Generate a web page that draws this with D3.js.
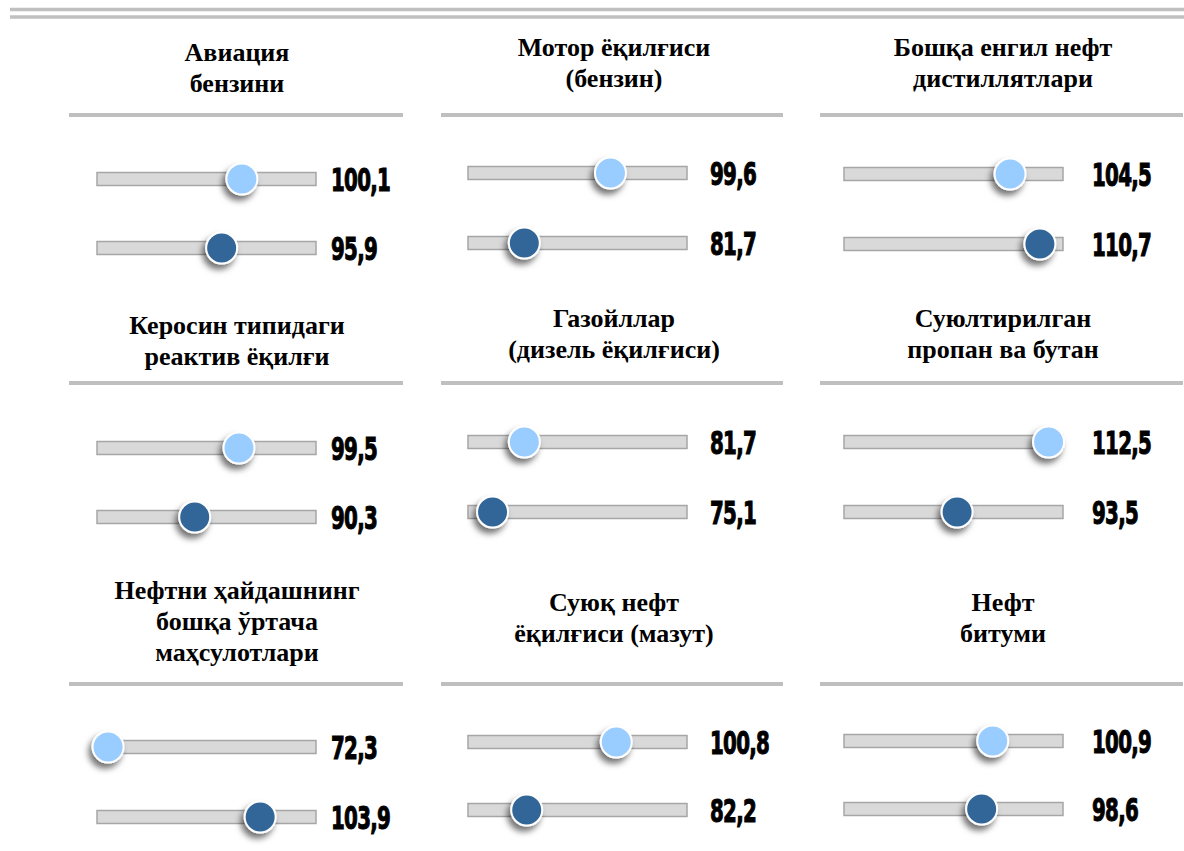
<!DOCTYPE html>
<html><head><meta charset="utf-8">
<script src="https://cdn.jsdelivr.net/npm/d3@7"></script>
<style>html,body{margin:0;padding:0;background:#fff;}svg{display:block;}
.ttl{font-family:"Liberation Serif","DejaVu Serif",serif;font-weight:bold;}
.lbl{font-family:"DejaVu Sans Condensed","DejaVu Sans",sans-serif;font-weight:bold;}
</style>
</head><body>
<script>
// ---- data ----
const categories = [
  ["Авиация", "бензини"],
  ["Мотор ёқилғиси", "(бензин)"],
  ["Бошқа енгил нефт", "дистиллятлари"],
  ["Керосин типидаги", "реактив ёқилғи"],
  ["Газойллар", "(дизель ёқилғиси)"],
  ["Суюлтирилган", "пропан ва бутан"],
  ["Нефтни ҳайдашнинг", "бошқа ўртача", "маҳсулотлари"],
  ["Суюқ нефт", "ёқилғиси (мазут)"],
  ["Нефт", "битуми"]
];
const seriesLight = [100.1, 99.6, 104.5, 99.5, 81.7, 112.5, 72.3, 100.8, 100.9];
const seriesDark  = [95.9, 81.7, 110.7, 90.3, 75.1, 93.5, 103.9, 82.2, 98.6];
const labelsLight = ["100,1", "99,6", "104,5", "99,5", "81,7", "112,5", "72,3", "100,8", "100,9"];
const labelsDark  = ["95,9", "81,7", "110,7", "90,3", "75,1", "93,5", "103,9", "82,2", "98,6"];

// ---- layout ----
const W = 1184, H = 851;
const trackX = [97, 468, 844];
const trackW = 219;
const labelX = [331, 710, 1092];
const titleX = [237, 614, 1003];
const sepX = [[69, 403], [441, 783], [820, 1183]];
const sepY = [115, 383, 684];
const titleMid = [[67, 62.5, 62.5], [340, 333, 333], [621, 617.5, 617.5]];
const track1Y = [[179, 173, 174], [448, 442, 442], [747, 742, 741]];
const track2Y = [[248, 243, 244], [517, 512, 512], [817, 810, 809]];
const lineH = 31;

const x = d3.scaleLinear().domain([70, 115.5]).range([0, trackW]);

const svg = d3.select("body").append("svg").attr("width", W).attr("height", H);
const defs = svg.append("defs");
const f = defs.append("filter").attr("id", "sh").attr("x", "-60%").attr("y", "-60%").attr("width", "220%").attr("height", "220%");
f.append("feDropShadow").attr("dx", -3).attr("dy", 5).attr("stdDeviation", 3)
  .attr("flood-color", "#000").attr("flood-opacity", 0.55);

// top double rule
[9.5, 17].forEach(y => svg.append("line").attr("x1", 10).attr("x2", W).attr("y1", y).attr("y2", y)
  .attr("stroke", "#c0c0c0").attr("stroke-width", 3.5));

categories.forEach((cat, i) => {
  const r = Math.floor(i / 3), c = i % 3;
  const g = svg.append("g");
  // title
  const n = cat.length;
  const y0 = titleMid[r][c] - (n - 1) * lineH / 2;
  const t = g.append("text").attr("class", "ttl").attr("text-anchor", "middle")
    .attr("font-size", 26).attr("fill", "#000");
  cat.forEach((s, k) => t.append("tspan").attr("x", titleX[c]).attr("y", y0 + k * lineH + 9).text(s));
  // separator
  g.append("line").attr("x1", sepX[c][0]).attr("x2", sepX[c][1]).attr("y1", sepY[r]).attr("y2", sepY[r])
    .attr("stroke", "#bfbfbf").attr("stroke-width", 4);

  const rows = [
    {y: track1Y[r][c], v: seriesLight[i], lab: labelsLight[i], col: "#99ccff"},
    {y: track2Y[r][c], v: seriesDark[i], lab: labelsDark[i], col: "#336699"}
  ];
  rows.forEach(d => {
    g.append("rect").attr("x", trackX[c]).attr("y", d.y - 6.5).attr("width", trackW).attr("height", 13)
      .attr("fill", "#d9d9d9").attr("stroke", "#a6a6a6").attr("stroke-width", 1.5);
    g.append("circle").attr("cx", trackX[c] + x(d.v)).attr("cy", d.y).attr("r", 15.5)
      .attr("fill", d.col).attr("stroke", "#fff").attr("stroke-width", 2).attr("filter", "url(#sh)");
    g.append("text").attr("class", "lbl").attr("transform", `translate(${labelX[c]},${d.y}) scale(0.7,1.04)`)
      .attr("dy", "0.36em").attr("font-size", 31.5).attr("letter-spacing", -1)
      .attr("fill", "#000").attr("stroke", "#000").attr("stroke-width", 1)
      .text(d.lab);
  });
});
</script>
</body></html>
